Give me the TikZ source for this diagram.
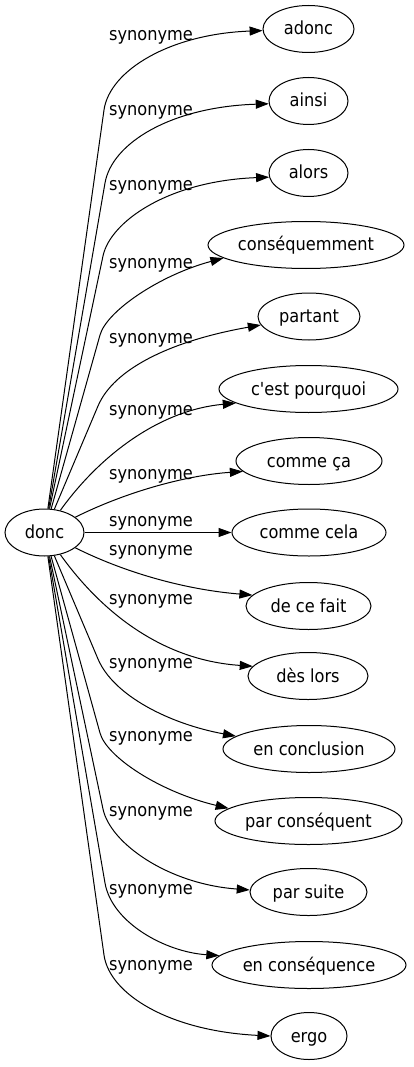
\documentclass[tikz,border=0pt]{standalone}
\usepackage{fontspec}
\setmainfont{DejaVu Sans Condensed}
\newfontfamily\wordfont{DejaVu Sans Condensed}
\usetikzlibrary{arrows.meta,shapes.geometric,calc}
\begin{document}
\begin{tikzpicture}[x=1pt,y=-1pt,
  word/.style={draw, ellipse, line width=1pt, inner sep=0pt, minimum height=47pt,
    text height=12pt, text depth=0pt, font=\wordfont\fontsize{18}{20}\selectfont},
  syn/.style={draw, line width=1pt, -{Triangle[length=13pt,width=9pt]}},
  rel/.style={anchor=base, inner sep=0pt, font=\wordfont\fontsize{18}{20}\selectfont}]
  \useasboundingbox (0,0) rectangle (413,1067);
  \node[word, minimum width=79pt] (donc) at (44.5,532.5) {donc};
  \node[word, minimum width=91pt] (adonc) at (308.5,29) {adonc};
  \node[word, minimum width=79pt] (ainsi) at (308.5,101) {ainsi};
  \node[word, minimum width=79pt] (alors) at (308.5,173) {alors};
  \node[word, minimum width=196pt] (conseq) at (306,245) {conséquemment};
  \node[word, minimum width=102pt] (partant) at (309,316.5) {partant};
  \node[word, minimum width=179pt] (pourquoi) at (308.5,389) {c'est pourquoi};
  \node[word, minimum width=146pt] (commeca) at (309,461) {comme ça};
  \node[word, minimum width=154pt] (commecela) at (309,532.5) {comme cela};
  \node[word, minimum width=125pt] (cefait) at (308.5,606) {de ce fait};
  \node[word, minimum width=120pt] (deslors) at (308,676) {dès lors};
  \node[word, minimum width=172pt] (conclusion) at (309,749) {en conclusion};
  \node[word, minimum width=187pt] (parconseq) at (308.5,821) {par conséquent};
  \node[word, minimum width=117pt] (parsuite) at (308.5,892) {par suite};
  \node[word, minimum width=194pt] (enconseq) at (309,965) {en conséquence};
  \node[word, minimum width=76pt] (ergo) at (309,1036) {ergo};
  % bends of the long edges
  \coordinate (kadonc) at (104,110);
  \coordinate (kainsi) at (105,183);
  \coordinate (kalors) at (103,256);
  \coordinate (kconseq) at (100,335);
  \coordinate (kpartant) at (98,406);
  \coordinate (kconclusion) at (98,659);
  \coordinate (kparconseq) at (100,733);
  \coordinate (kparsuite) at (103,809);
  \coordinate (kenconseq) at (105,883);
  \coordinate (kergo) at (104,955);
  \draw[syn] (donc) -- (kadonc) .. controls ($(kadonc)!-40pt!(donc)$) and (170,34) .. (adonc.182);
  \draw[syn] (donc) -- (kainsi) .. controls ($(kainsi)!-40pt!(donc)$) and (170,107) .. (ainsi.184);
  \draw[syn] (donc) -- (kalors) .. controls ($(kalors)!-35pt!(donc)$) and (168,181) .. (alors.186);
  \draw[syn] (donc) -- (kconseq) .. controls ($(kconseq)!-25pt!(donc)$) and (160,275) .. (conseq.189);
  \draw[syn] (donc) -- (kpartant) .. controls ($(kpartant)!-40pt!(donc)$) and (170,341) .. (partant.190);
  \draw[syn] (donc) .. controls (100,455) and (160,410) .. (pourquoi.191);
  \draw[syn] (donc) .. controls (130,490) and (190,475) .. (commeca.189);
  \draw[syn] (donc) -- (commecela);
  \draw[syn] (donc) .. controls (130,575) and (190,590) .. (cefait.169);
  \draw[syn] (donc) .. controls (100,610) and (160,660) .. (deslors.170);
  \draw[syn] (donc) -- (kconclusion) .. controls ($(kconclusion)!-40pt!(donc)$) and (170,724) .. (conclusion.170);
  \draw[syn] (donc) -- (kparconseq) .. controls ($(kparconseq)!-25pt!(donc)$) and (160,792) .. (parconseq.171);
  \draw[syn] (donc) -- (kparsuite) .. controls ($(kparsuite)!-35pt!(donc)$) and (168,884) .. (parsuite.178);
  \draw[syn] (donc) -- (kenconseq) .. controls ($(kenconseq)!-40pt!(donc)$) and (165,952) .. (enconseq.174);
  \draw[syn] (donc) -- (kergo) .. controls ($(kergo)!-40pt!(donc)$) and (170,1031) .. (ergo.180);
  % edge labels, placed by baseline
  \node[rel] (ladonc) at (151,40.7) {synonyme};
  \node[rel] (lainsi) at (151,115.7) {synonyme};
  \node[rel] (lalors) at (151,190.7) {synonyme};
  \node[rel] (lconseq) at (151,268.3) {synonyme};
  \node[rel] (lpartant) at (151,343.3) {synonyme};
  \node[rel] (lpourquoi) at (151,415) {synonyme};
  \node[rel] (lcommeca) at (151,479) {synonyme};
  \node[rel] (lcommecela) at (151,526.7) {synonyme};
  \node[rel] (lcefait) at (151,555) {synonyme};
  \node[rel] (ldeslors) at (151,604.3) {synonyme};
  \node[rel] (lconclusion) at (151,668.3) {synonyme};
  \node[rel] (lparconseq) at (151,741.7) {synonyme};
  \node[rel] (lparsuite) at (151,816.7) {synonyme};
  \node[rel] (lenconseq) at (151,894) {synonyme};
  \node[rel] (lergo) at (151,970) {synonyme};
\end{tikzpicture}
\end{document}
